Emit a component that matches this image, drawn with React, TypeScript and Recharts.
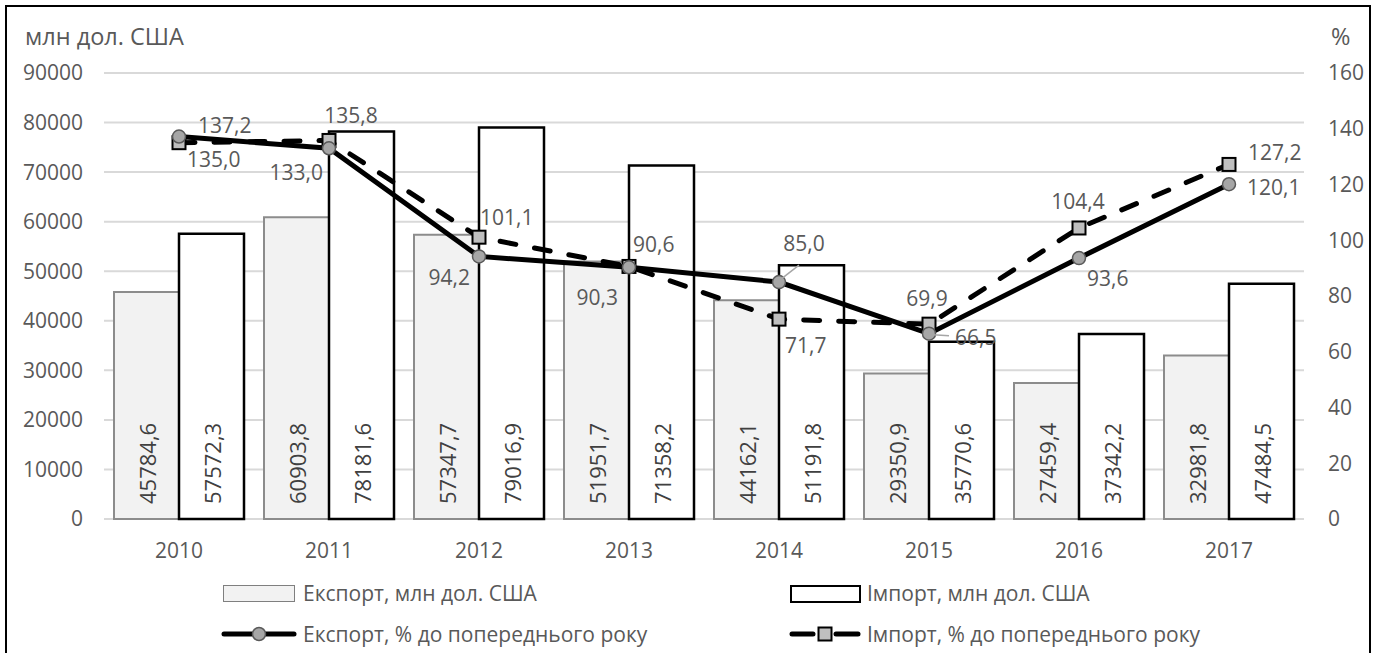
import {
  ComposedChart,
  Bar,
  Line,
  XAxis,
  YAxis,
  CartesianGrid,
  LabelList,
  Legend,
} from "recharts";

const FONT = "'Open Sans', 'Liberation Sans', sans-serif";
const TEXT = "#595959";

const years = ["2010", "2011", "2012", "2013", "2014", "2015", "2016", "2017"];
const exportUsd = [45784.6, 60903.8, 57347.7, 51951.7, 44162.1, 29350.9, 27459.4, 32981.8];
const importUsd = [57572.3, 78181.6, 79016.9, 71358.2, 51191.8, 35770.6, 37342.2, 47484.5];
const exportPct = [137.2, 133.0, 94.2, 90.3, 85.0, 66.5, 93.6, 120.1];
const importPct = [135.0, 135.8, 101.1, 90.6, 71.7, 69.9, 104.4, 127.2];

const leftTicks = [0, 10000, 20000, 30000, 40000, 50000, 60000, 70000, 80000, 90000];
const rightTicks = [0, 20, 40, 60, 80, 100, 120, 140, 160];

// label placement relative to the point: [dx, dy, anchor]
const exportLabelPos: [number, number, string][] = [
  [19, -12, "start"],
  [-6, 24, "end"],
  [-9, 21, "end"],
  [-11, 30, "end"],
  [25, -39, "middle"],
  [26, 3, "start"],
  [8, 20, "start"],
  [18, 3, "start"],
];
const importLabelPos: [number, number, string][] = [
  [8, 16, "start"],
  [22, -25, "middle"],
  [1, -20, "start"],
  [4, -22, "start"],
  [6, 26, "start"],
  [-2, -26, "middle"],
  [-1, -27, "middle"],
  [19, -12, "start"],
];

const data = years.map((year, i) => ({
  year,
  exportUsd: exportUsd[i],
  importUsd: importUsd[i],
  exportPct: exportPct[i],
  importPct: importPct[i],
}));

const fmt = (v: number) => v.toFixed(1).replace(".", ",");

const BarValue = (props: any) => {
  const { x, y, width, height, value } = props;
  const cx = x + width / 2;
  const by = y + height - 15;
  return (
    <text
      x={cx}
      y={by}
      transform={`rotate(-90, ${cx}, ${by})`}
      textAnchor="start"
      dominantBaseline="central"
      fill="#404040"
      fontSize={22}
      fontFamily={FONT}
    >
      {fmt(value)}
    </text>
  );
};

const pctLabel = (pos: [number, number, string][], leaders?: boolean) => (props: any) => {
  const { x, y, value, index } = props;
  const [dx, dy, anchor] = pos[index];
  return (
    <g>
      {leaders && index === 4 && (
        <line x1={x + 2} y1={y - 3} x2={x + 20} y2={y - 17} stroke="#a6a6a6" strokeWidth={1.5} />
      )}
      {leaders && index === 5 && (
        <line x1={x + 4} y1={y + 1} x2={x + 20} y2={y + 2} stroke="#a6a6a6" strokeWidth={1.5} />
      )}
      <text
        x={x + dx}
        y={y + dy}
        textAnchor={anchor as any}
        dominantBaseline="central"
        fill={TEXT}
        fontSize={21}
        fontFamily={FONT}
      >
        {fmt(value)}
      </text>
    </g>
  );
};

const CircleDot = (props: any) => {
  const { cx, cy } = props;
  return <circle cx={cx} cy={cy} r={6.5} fill="#a6a6a6" stroke="#595959" strokeWidth={1.5} />;
};

const SquareDot = (props: any) => {
  const { cx, cy } = props;
  return (
    <rect x={cx - 6.5} y={cy - 6.5} width={13} height={13} fill="#bfbfbf" stroke="#000" strokeWidth={2} />
  );
};

const legendText = { position: "absolute" as const, fontSize: 21, color: TEXT, fontFamily: FONT, lineHeight: "24px" };

const CustomLegend = () => (
  <div style={{ position: "relative", width: 1381, height: 70 }}>
    <div style={{ position: "absolute", left: 223, top: 7, width: 70, height: 15, background: "#f2f2f2", border: "1.5px solid #7f7f7f" }} />
    <div style={{ ...legendText, left: 303, top: 3 }}>Експорт, млн дол. США</div>
    <div style={{ position: "absolute", left: 790, top: 7, width: 67, height: 14, background: "#fff", border: "2px solid #000" }} />
    <div style={{ ...legendText, left: 867, top: 3 }}>Імпорт, млн дол. США</div>

    <svg style={{ position: "absolute", left: 220, top: 46 }} width={78} height={20}>
      <line x1={4} y1={10} x2={74} y2={10} stroke="#000" strokeWidth={5} strokeLinecap="round" />
      <circle cx={39} cy={10} r={6.5} fill="#a6a6a6" stroke="#595959" strokeWidth={1.5} />
    </svg>
    <div style={{ ...legendText, left: 303, top: 44 }}>Експорт, % до попереднього року</div>
    <svg style={{ position: "absolute", left: 787, top: 46 }} width={78} height={20}>
      <line x1={5} y1={10} x2={26} y2={10} stroke="#000" strokeWidth={5} strokeLinecap="round" />
      <line x1={49} y1={10} x2={71} y2={10} stroke="#000" strokeWidth={5} strokeLinecap="round" />
      <rect x={31.5} y={3.5} width={13} height={13} fill="#bfbfbf" stroke="#000" strokeWidth={2} />
    </svg>
    <div style={{ ...legendText, left: 867, top: 44 }}>Імпорт, % до попереднього року</div>
  </div>
);

const App = () => {
  return (
    <div style={{ position: "absolute", left: 0, top: 0, width: 1381, height: 653, background: "#fff", overflow: "hidden" }}>
      <div
        style={{
          position: "absolute",
          left: 5,
          top: 5,
          width: 1366,
          height: 700,
          border: "2px solid #000",
          boxSizing: "border-box",
        }}
      />
      <div style={{ position: "absolute", left: 25, top: 20, fontSize: 23.5, color: TEXT, fontFamily: FONT }}>
        млн дол. США
      </div>
      <div style={{ position: "absolute", left: 1331, top: 20, fontSize: 23.5, color: TEXT, fontFamily: FONT }}>
        %
      </div>
      <ComposedChart
        width={1381}
        height={653}
        data={data}
        margin={{ top: 73, right: 0, bottom: 24, left: 0 }}
        barGap={0}
        barCategoryGap={10}
        style={{ position: "absolute", left: 0, top: 0 }}
      >
        <CartesianGrid yAxisId="left" vertical={false} stroke="#d9d9d9" strokeWidth={2} />
        <XAxis
          dataKey="year"
          height={40}
          axisLine={false}
          tickLine={false}
          tickSize={0}
          tickMargin={24}
          tick={{ fill: TEXT, fontSize: 21, fontFamily: FONT }}
        />
        <YAxis
          yAxisId="left"
          width={104}
          domain={[0, 90000]}
          ticks={leftTicks}
          axisLine={false}
          tickLine={false}
          tickSize={0}
          tickMargin={21}
          tick={{ fill: TEXT, fontSize: 21, fontFamily: FONT }}
        />
        <YAxis
          yAxisId="right"
          orientation="right"
          width={77}
          domain={[0, 160]}
          ticks={rightTicks}
          axisLine={false}
          tickLine={false}
          tickSize={0}
          tickMargin={24}
          tick={{ fill: TEXT, fontSize: 21, fontFamily: FONT, textAnchor: "start" }}
        />
        <Legend
          verticalAlign="bottom"
          content={<CustomLegend />}
          wrapperStyle={{ left: 0, top: 578, width: 1381, height: 70 }}
        />
        <Bar
          yAxisId="left"
          dataKey="exportUsd"
          fill="#f2f2f2"
          stroke="#8c8c8c"
          strokeWidth={2}
          isAnimationActive={false}
        >
          <LabelList dataKey="exportUsd" content={BarValue} />
        </Bar>
        <Bar
          yAxisId="left"
          dataKey="importUsd"
          fill="#ffffff"
          stroke="#000"
          strokeWidth={2.5}
          isAnimationActive={false}
        >
          <LabelList dataKey="importUsd" content={BarValue} />
        </Bar>
        <Line
          yAxisId="right"
          type="linear"
          dataKey="importPct"
          stroke="#000"
          strokeWidth={5}
          strokeDasharray="16 19"
          strokeLinecap="round"
          dot={<SquareDot />}
          activeDot={false}
          isAnimationActive={false}
        >
          <LabelList dataKey="importPct" content={pctLabel(importLabelPos)} />
        </Line>
        <Line
          yAxisId="right"
          type="linear"
          dataKey="exportPct"
          stroke="#000"
          strokeWidth={5}
          dot={<CircleDot />}
          activeDot={false}
          isAnimationActive={false}
        >
          <LabelList dataKey="exportPct" content={pctLabel(exportLabelPos, true)} />
        </Line>
      </ComposedChart>
    </div>
  );
};

export default App;
